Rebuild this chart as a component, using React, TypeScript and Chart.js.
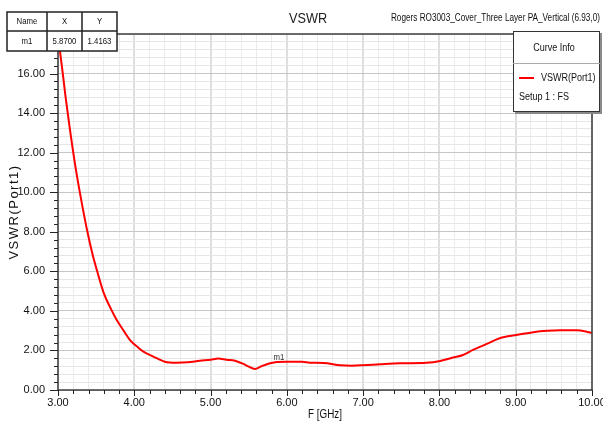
import { useEffect, useRef } from "react";
import { Chart, registerables } from "chart.js";

Chart.register(...registerables);

// ---- data ----
const freqGHz = [
  3.0, 3.05, 3.1, 3.15, 3.22, 3.3, 3.38, 3.45, 3.51, 3.6, 3.7, 3.77, 3.86, 3.95, 4.05, 4.12,
  4.25, 4.4, 4.55, 4.7, 4.86, 5.0, 5.1, 5.21, 5.32, 5.43, 5.5, 5.58, 5.67, 5.78, 5.87, 6.0,
  6.2, 6.3, 6.48, 6.7, 6.85, 7.0, 7.22, 7.48, 7.83, 8.01, 8.18, 8.31, 8.44, 8.62, 8.79, 9.01,
  9.23, 9.41, 9.58, 9.8, 9.92, 10.0,
];
const vswr = [
  17.9, 16.4, 14.8, 13.35, 11.5, 9.7, 8.1, 6.9, 6.05, 4.9, 4.05, 3.54, 3.0, 2.5, 2.15, 1.94,
  1.69, 1.43, 1.38, 1.4, 1.48, 1.53, 1.59, 1.53, 1.48, 1.32, 1.18, 1.06, 1.21, 1.35, 1.4163, 1.43,
  1.43, 1.38, 1.37, 1.25, 1.23, 1.25, 1.3, 1.35, 1.38, 1.47, 1.64, 1.77, 2.03, 2.33, 2.62, 2.78,
  2.92, 2.99, 3.02, 3.02, 2.96, 2.88,
];
const xMajorTicks = [3, 4, 5, 6, 7, 8, 9, 10];
const yMajorTicks = [0, 2, 4, 6, 8, 10, 12, 14, 16];
const chartTitle = "VSWR";
const designName = "Rogers RO3003_Cover_Three Layer PA_Vertical (6.93,0)";
const xAxisTitle = "F [GHz]";
const yAxisTitle = "VSWR(Port1)";
const seriesName = "VSWR(Port1)";
const setupName = "Setup 1 : FS";
const legendHeader = "Curve Info";
const markerHeader = ["Name", "X", "Y"];
const markerNames = ["m1"];
const markerX = [5.87];
const markerY = [1.4163];

const REG = "'Liberation Sans', Arial, sans-serif";
const SX = 0.82; // horizontal squeeze to mimic the narrow face

const isMaj = (arr: number[], v: any) =>
  typeof v === "number" && arr.some((t) => Math.abs(t - v) < 1e-6);

function txt(
  ctx: CanvasRenderingContext2D,
  s: string,
  x: number,
  y: number,
  size: number,
  align: CanvasTextAlign,
  baseline: CanvasTextBaseline,
  color = "#111"
) {
  ctx.save();
  ctx.translate(x, y);
  ctx.scale(SX, 1);
  ctx.font = `${size}px ${REG}`;
  ctx.fillStyle = color;
  ctx.textAlign = align;
  ctx.textBaseline = baseline;
  ctx.fillText(s, 0, 0);
  ctx.restore();
}

const decor = {
  id: "decor",
  afterDraw(chart: any) {
    const { ctx, chartArea: a, scales } = chart;
    const xs = scales.x;
    const ys = scales.y;
    ctx.save();
    // plot border
    ctx.strokeStyle = "#3c3c3c";
    ctx.lineWidth = 1.5;
    ctx.strokeRect(a.left, a.top, a.right - a.left, a.bottom - a.top);

    // tick marks
    ctx.strokeStyle = "#222";
    ctx.lineWidth = 1;
    ctx.beginPath();
    xs.ticks.forEach((t: any) => {
      const px = Math.round(xs.getPixelForValue(t.value)) + 0.5;
      const len = isMaj(xMajorTicks, t.value) ? 6 : 4;
      ctx.moveTo(px, a.bottom);
      ctx.lineTo(px, a.bottom + len);
    });
    ys.ticks.forEach((t: any) => {
      const py = Math.round(ys.getPixelForValue(t.value)) + 0.5;
      const len = isMaj(yMajorTicks, t.value) ? 8 : 4;
      ctx.moveTo(a.left - len, py);
      ctx.lineTo(a.left, py);
    });
    ctx.stroke();

    // chart title and design name
    txt(ctx, chartTitle, (a.left + a.right) / 2 - 17, 23, 15.5, "center", "alphabetic", "#222");
    txt(ctx, designName, 600, 21, 10, "right", "alphabetic");

    // axis titles
    txt(ctx, xAxisTitle, (a.left + a.right) / 2, 418, 12, "center", "alphabetic");
    ctx.save();
    ctx.translate(17.5, (a.top + a.bottom) / 2);
    ctx.rotate(-Math.PI / 2);
    ctx.font = `13px ${REG}`;
    (ctx as any).letterSpacing = "1.5px";
    ctx.fillStyle = "#111";
    ctx.textAlign = "center";
    ctx.textBaseline = "alphabetic";
    ctx.fillText(yAxisTitle, 0, 0);
    ctx.restore();

    // marker labels
    markerNames.forEach((n, i) => {
      const px = xs.getPixelForValue(markerX[i]);
      const py = ys.getPixelForValue(markerY[i]);
      txt(ctx, n, px + 2, py - 2, 9.5, "center", "alphabetic", "#333");
    });

    // marker table
    const cols = [7, 47, 82, 117];
    const rows = [12, 31, 51];
    ctx.fillStyle = "#fff";
    ctx.fillRect(cols[0], rows[0], cols[3] - cols[0], rows[2] - rows[0]);
    ctx.strokeStyle = "#222";
    ctx.lineWidth = 1.5;
    ctx.strokeRect(cols[0], rows[0], cols[3] - cols[0], rows[2] - rows[0]);
    ctx.beginPath();
    ctx.moveTo(cols[0], rows[1]);
    ctx.lineTo(cols[3], rows[1]);
    ctx.moveTo(cols[1], rows[0]);
    ctx.lineTo(cols[1], rows[2]);
    ctx.moveTo(cols[2], rows[0]);
    ctx.lineTo(cols[2], rows[2]);
    ctx.stroke();
    markerHeader.forEach((h, i) => {
      txt(ctx, h, (cols[i] + cols[i + 1]) / 2, (rows[0] + rows[1]) / 2, 9.5, "center", "middle");
    });
    const rowVals = [markerNames[0], markerX[0].toFixed(4), markerY[0].toFixed(4)];
    rowVals.forEach((h, i) => {
      txt(ctx, h, (cols[i] + cols[i + 1]) / 2, (rows[1] + rows[2]) / 2 + 0.5, 9.5, "center", "middle");
    });

    // curve info box
    const bx = 513, by = 31, bw = 87, bh = 81;
    ctx.fillStyle = "#8a8a8a";
    ctx.fillRect(bx + 2, by + 2, bw, bh);
    ctx.fillStyle = "#fff";
    ctx.fillRect(bx, by, bw, bh);
    ctx.strokeStyle = "#333";
    ctx.lineWidth = 1;
    ctx.strokeRect(bx + 0.5, by + 0.5, bw - 1, bh - 1);
    ctx.strokeStyle = "#aaa";
    ctx.beginPath();
    ctx.moveTo(bx, 63.5);
    ctx.lineTo(bx + bw, 63.5);
    ctx.stroke();
    txt(ctx, legendHeader, 554, 48, 11, "center", "middle");
    ctx.strokeStyle = "#ff0000";
    ctx.lineWidth = 2;
    ctx.beginPath();
    ctx.moveTo(519, 78);
    ctx.lineTo(534, 78);
    ctx.stroke();
    txt(ctx, seriesName, 541, 78, 11, "left", "middle");
    txt(ctx, setupName, 519, 97, 11, "left", "middle");
    ctx.restore();
  },
};

export default function App() {
  const ref = useRef<HTMLCanvasElement | null>(null);
  useEffect(() => {
    if (!ref.current) return;
    const chart = new Chart(ref.current, {
      type: "line",
      data: {
        datasets: [
          {
            label: seriesName,
            data: freqGHz.map((f, i) => ({ x: f, y: vswr[i] })),
            borderColor: "#ff0000",
            borderWidth: 2,
            pointRadius: 0,
            fill: false,
            cubicInterpolationMode: "monotone",
          },
        ],
      },
      options: {
        animation: false,
        responsive: false,
        devicePixelRatio: 1,
        layout: { padding: { top: 34, left: 0, right: 11, bottom: 0 } },
        plugins: {
          legend: { display: false },
          tooltip: { enabled: false },
          title: { display: false },
        },
        scales: {
          x: {
            type: "linear",
            min: 3,
            max: 10,
            afterFit: (s: any) => {
              s.height = 34;
              s.paddingLeft = 0;
              s.paddingRight = 0;
            },
            ticks: {
              stepSize: 0.2,
              autoSkip: false,
              maxTicksLimit: 100,
              maxRotation: 0,
              minRotation: 0,
              padding: 2,
              color: "#111",
              font: { family: REG, size: 11 },
              callback: (v: any) => (isMaj(xMajorTicks, v) ? Number(v).toFixed(2) : ""),
            },
            grid: {
              color: (c: any) => (isMaj(xMajorTicks, c.tick?.value) ? "#dedede" : "#ebebeb"),
              lineWidth: (c: any) => (isMaj(xMajorTicks, c.tick?.value) ? 2 : 1),
              drawTicks: true,
              tickLength: 4,
              tickColor: "rgba(0,0,0,0)",
            },
            border: { display: false },
          },
          y: {
            type: "linear",
            min: 0,
            max: 18,
            afterFit: (s: any) => {
              s.width = 58;
              s.paddingTop = 0;
              s.paddingBottom = 0;
            },
            ticks: {
              stepSize: 0.4,
              autoSkip: false,
              maxTicksLimit: 100,
              padding: 5,
              color: "#111",
              font: { family: REG, size: 11 },
              callback: (v: any) => (isMaj(yMajorTicks, v) ? Number(v).toFixed(2) : ""),
            },
            grid: {
              color: (c: any) => (isMaj(yMajorTicks, c.tick?.value) ? "#c6c6c6" : "#e6e6e6"),
              lineWidth: 1,
              drawTicks: true,
              tickLength: 8,
              tickColor: "rgba(0,0,0,0)",
            },
            border: { display: false },
          },
        },
      } as any,
      plugins: [decor],
    });
    return () => chart.destroy();
  }, []);
  return (
    <div style={{ position: "absolute", left: 0, top: 0, width: 603, height: 424, background: "#fff" }}>
      <canvas ref={ref} width={603} height={424} style={{ display: "block" }} />
    </div>
  );
}
